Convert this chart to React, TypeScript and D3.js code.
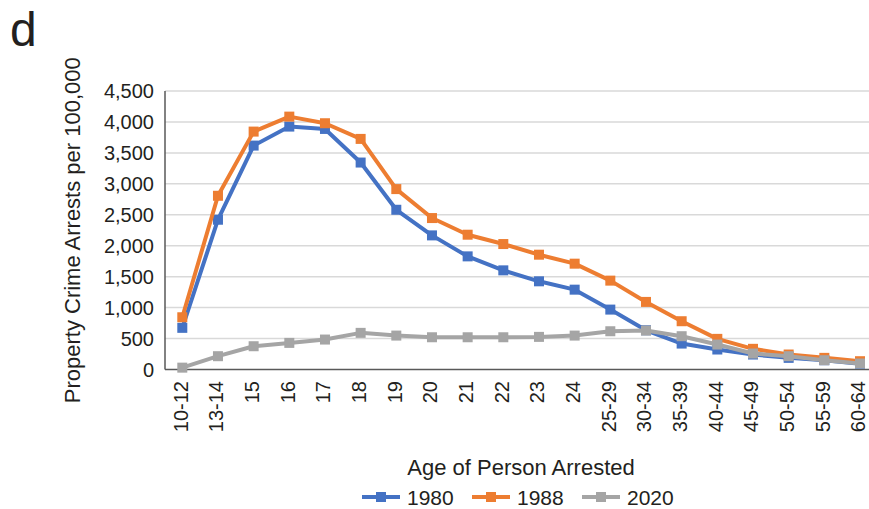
import React from "react";
import * as d3 from "d3";

const categories = ["10-12","13-14","15","16","17","18","19","20","21","22","23","24","25-29","30-34","35-39","40-44","45-49","50-54","55-59","60-64"];
const s1980 = [673,2420,3618,3925,3887,3344,2581,2167,1828,1602,1425,1290,968,634,419,323,242,188,150,92];
const s1988 = [844,2807,3844,4086,3979,3726,2915,2447,2178,2027,1855,1710,1436,1092,780,495,334,242,188,134];
const s2020 = [30,215,376,430,484,592,548,521,521,521,527,548,618,629,538,403,258,215,150,97];
const yTicks = [0,500,1000,1500,2000,2500,3000,3500,4000,4500];
const seriesNames = ["1980","1988","2020"];
const seriesColors = ["#4472C4","#ED7D31","#A5A5A5"];

export default function App() {
  const W = 869, H = 509;
  const font = "'Liberation Sans', Arial, sans-serif";
  const x = d3.scalePoint<string>().domain(categories).range([182.3, 860]);
  const y = d3.scaleLinear().domain([0, 4500]).range([369.5, 91]);
  const fmt = d3.format(",");
  const series = [s1980, s1988, s2020];
  const line = d3.line<number>().x((_, i) => x(categories[i]) as number).y((v) => y(v));
  const legendX = [362, 472, 582];
  return (
    <svg width={W} height={H} style={{ position: "absolute", left: 0, top: 0, background: "#fff" }} fontFamily={font}>
      <rect x={0} y={0} width={W} height={H} fill="#fff" />
      <text x={10} y={46} fontSize={48} fill="#231f20">d</text>
      {yTicks.map((t) => (
        <g key={t}>
          {t > 0 && <line x1={165} x2={W} y1={y(t)} y2={y(t)} stroke="#D9D9D9" strokeWidth={1.5} />}
          <text x={154} y={y(t)} dy="0.36em" textAnchor="end" fontSize={20} fill="#231f20">{fmt(t)}</text>
        </g>
      ))}
      <line x1={165} x2={165} y1={y(4500)} y2={y(0)} stroke="#595959" strokeWidth={1.5} />
      <line x1={165} x2={W} y1={y(0)} y2={y(0)} stroke="#595959" strokeWidth={1.5} />
      {categories.map((c) => (
        <text key={c} transform={`translate(${x(c)},381) rotate(-90)`} dy="0.27em" textAnchor="end" fontSize={20} fill="#231f20">{c}</text>
      ))}
      <text transform={`translate(80,${(y(0) + y(4500)) / 2}) rotate(-90)`} textAnchor="middle" fontSize={22} fill="#231f20">Property Crime Arrests per 100,000</text>
      <text x={521} y={475} textAnchor="middle" fontSize={22} fill="#231f20">Age of Person Arrested</text>
      {series.map((s, si) => (
        <g key={si}>
          <path d={line(s) || ""} fill="none" stroke={seriesColors[si]} strokeWidth={4} strokeLinejoin="round" />
          {s.map((v, i) => (
            <rect key={i} x={(x(categories[i]) as number) - 5} y={y(v) - 5} width={10} height={10} fill={seriesColors[si]} />
          ))}
        </g>
      ))}
      {seriesNames.map((n, i) => (
        <g key={n}>
          <line x1={legendX[i]} x2={legendX[i] + 38} y1={497} y2={497} stroke={seriesColors[i]} strokeWidth={4} />
          <rect x={legendX[i] + 14} y={492} width={10} height={10} fill={seriesColors[i]} />
          <text x={legendX[i] + 45} y={497} dy="0.36em" fontSize={21} fill="#231f20">{n}</text>
        </g>
      ))}
    </svg>
  );
}
